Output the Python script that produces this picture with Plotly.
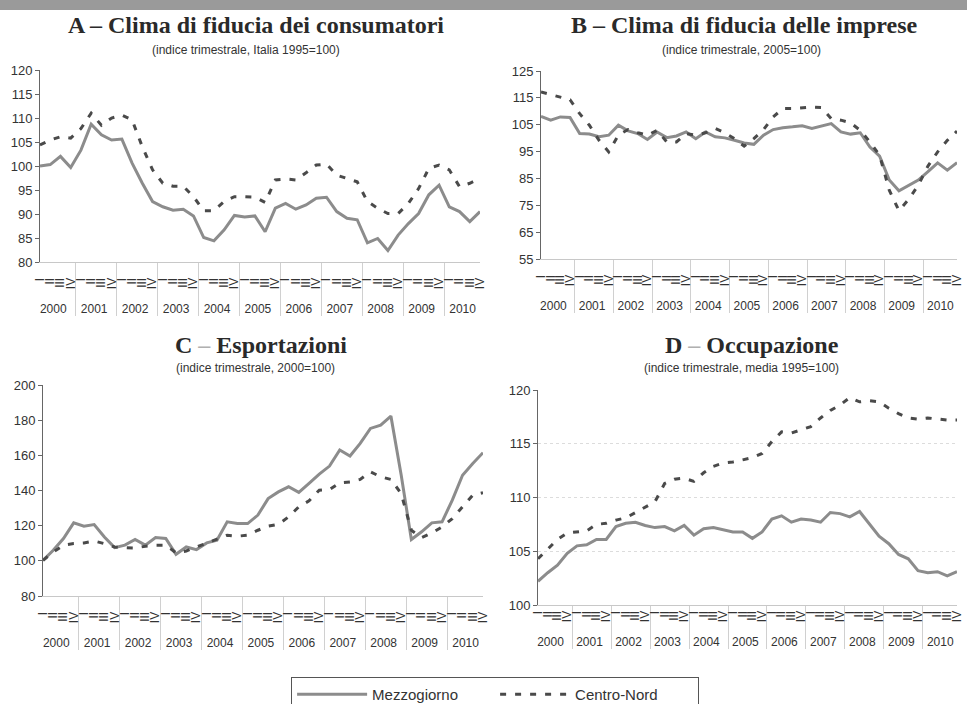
import plotly.graph_objects as go

W, H = 967, 704

years = [str(y) for y in range(2000, 2011)]
quarters = ["I", "II", "III", "IV"]

# Panel A - Clima di fiducia dei consumatori
a_mezz = [100.0, 100.3, 102.0, 99.7, 103.3, 108.7, 106.5, 105.4, 105.6, 100.6, 96.4, 92.6,
          91.5, 90.8, 91.0, 89.6, 85.1, 84.4, 86.7, 89.7, 89.4, 89.6, 86.3, 91.2,
          92.2, 91.0, 91.9, 93.3, 93.5, 90.5, 89.1, 88.8, 84.0, 84.9, 82.4, 85.6,
          88.0, 90.1, 94.0, 96.0, 91.5, 90.5, 88.4, 90.5]
a_cn = [104.4, 105.4, 106.1, 105.8, 107.8, 111.0, 108.5, 110.0, 110.6, 109.6, 104.0, 99.2,
        96.4, 95.8, 95.8, 93.6, 90.7, 90.7, 92.6, 93.6, 93.6, 93.5, 92.4, 97.1,
        97.3, 97.1, 98.6, 100.2, 100.4, 98.1, 97.4, 96.7, 92.6, 91.2, 90.1, 90.1,
        92.2, 95.3, 99.5, 100.2, 99.2, 95.7, 96.4, 97.4]

# Panel B - Clima di fiducia delle imprese
b_mezz = [108.1, 106.7, 107.9, 107.7, 101.7, 101.5, 100.5, 101.1, 104.8, 102.7, 101.7, 99.5,
          102.3, 100.2, 100.8, 102.3, 99.8, 102.3, 100.5, 100.1, 99.2, 98.2, 97.7, 101.1,
          103.2, 103.9, 104.2, 104.6, 103.6, 104.6, 105.4, 102.3, 101.5, 102.0, 96.7, 93.3,
          84.4, 80.4, 82.5, 84.4, 87.5, 90.8, 88.1, 90.9]
b_cn = [117.2, 116.3, 115.3, 114.3, 109.1, 104.8, 99.2, 94.9, 101.1, 103.2, 102.0, 101.1,
        102.9, 98.6, 98.6, 101.7, 101.1, 102.0, 103.6, 102.0, 99.8, 97.0, 99.8, 103.2,
        107.9, 111.0, 111.0, 111.4, 111.6, 111.4, 107.3, 106.7, 105.7, 102.9, 98.6, 93.6,
        80.6, 73.0, 77.2, 82.5, 89.6, 94.9, 99.2, 102.6]

# Panel C - Esportazioni
c_mezz = [100.3, 106.0, 112.7, 121.6, 119.7, 120.6, 113.6, 107.5, 108.9, 112.1, 108.9, 113.2,
          112.7, 103.7, 107.9, 106.4, 110.2, 111.7, 122.2, 121.2, 121.2, 126.0, 135.4, 139.2,
          142.1, 138.9, 144.0, 149.3, 153.9, 163.0, 159.6, 166.8, 175.3, 177.2, 182.3, 149.0,
          112.1, 116.5, 121.6, 122.2, 134.5, 148.7, 155.4, 161.5]
c_cn = [100.3, 105.0, 108.9, 109.8, 110.2, 111.3, 109.8, 107.9, 107.5, 107.3, 108.3, 108.9,
        108.9, 104.5, 105.6, 107.9, 109.8, 112.1, 114.6, 114.0, 114.6, 117.4, 119.7, 120.8,
        125.0, 130.7, 134.1, 140.2, 140.6, 144.4, 144.9, 146.3, 150.6, 147.8, 146.3, 138.3,
        117.4, 113.2, 115.9, 119.3, 124.0, 130.7, 137.3, 138.7]

# Panel D - Occupazione
d_mezz = [102.2, 103.0, 103.7, 104.8, 105.5, 105.6, 106.1, 106.1, 107.3, 107.6, 107.7, 107.4,
          107.2, 107.3, 106.9, 107.4, 106.5, 107.1, 107.2, 107.0, 106.8, 106.8, 106.2, 106.8,
          108.0, 108.3, 107.7, 108.0, 107.9, 107.7, 108.6, 108.5, 108.2, 108.7, 107.6, 106.4,
          105.7, 104.7, 104.3, 103.2, 103.0, 103.1, 102.7, 103.1]
d_cn = [104.3, 105.2, 106.1, 106.7, 106.8, 106.9, 107.5, 107.6, 107.9, 108.1, 108.6, 109.1,
        109.6, 111.3, 111.7, 111.8, 111.5, 112.3, 112.9, 113.2, 113.3, 113.5, 113.7, 114.1,
        115.2, 116.1, 116.0, 116.3, 116.6, 117.4, 118.1, 118.6, 119.3, 118.9, 119.0, 118.9,
        118.3, 117.8, 117.4, 117.3, 117.4, 117.3, 117.2, 117.2]

titles = ["A \u2013 Clima di fiducia dei consumatori",
          "B \u2013 Clima di fiducia delle imprese",
          "C <span style='color:#b0b0b0'>\u2013</span> Esportazioni",
          "D <span style='color:#b0b0b0'>\u2013</span> Occupazione"]
subtitles = ["(indice trimestrale, Italia 1995=100)",
             "(indice trimestrale, 2005=100)",
             "(indice trimestrale, 2000=100)",
             "(indice trimestrale, media 1995=100)"]


def make_x(pad):
    # quarter labels are drawn rotated; trailing no-break spaces keep them off the axis line
    x_year = [y for y in years for _ in quarters]
    x_q = [q + "\u00a0" * pad for _ in years for q in quarters]
    return [x_year, x_q]


MEZZ_COLOR = "#8c8c8c"
CN_COLOR = "#4a4a4a"

# pixel layouts: (x0, x1, ytop, ybottom)
boxes = [(40, 480, 70, 262), (541, 957, 71, 259), (43, 483, 385, 596), (538, 957, 390, 605)]
label_pad = [3, 3, 3, 0]
yranges = [(80, 120, 5), (55, 125, 10), (80, 200, 20), (100, 120, 5)]
title_pos = [(256, 25, 246, 50), (744, 25, 741, 50), (261, 345, 255, 368), (752, 345, 741, 368)]
series = [(a_mezz, a_cn), (b_mezz, b_cn), (c_mezz, c_cn), (d_mezz, d_cn)]

fig = go.Figure()
layout = dict(
    width=W, height=H,
    margin=dict(l=0, r=0, t=0, b=0, autoexpand=False),
    paper_bgcolor="white", plot_bgcolor="rgba(0,0,0,0)",
    font=dict(family="Liberation Sans, Arial, sans-serif", color="#333333", size=12),
    showlegend=True,
    legend=dict(orientation="h", x=0.512, xanchor="center", y=1 - 677 / H, yanchor="top",
                bordercolor="#555555", borderwidth=1, bgcolor="white",
                font=dict(size=15, color="#333333"), itemwidth=70,
                tracegroupgap=0, entrywidth=118),
    annotations=[], shapes=[],
)

for i, ((m, c), (x0, x1, yt, yb), (lo, hi, step), tp) in enumerate(zip(series, boxes, yranges, title_pos)):
    n = "" if i == 0 else str(i + 1)
    xcat = make_x(label_pad[i])
    fig.add_trace(go.Scatter(x=xcat, y=m, mode="lines", name="Mezzogiorno",
                             line=dict(color=MEZZ_COLOR, width=3), showlegend=(i == 0),
                             xaxis="x" + n, yaxis="y" + n))
    fig.add_trace(go.Scatter(x=xcat, y=c, mode="lines", name="Centro-Nord",
                             line=dict(color=CN_COLOR, width=3, dash="6px,9px"), showlegend=(i == 0),
                             xaxis="x" + n, yaxis="y" + n))
    layout["xaxis" + n] = dict(
        domain=[x0 / W, min(x1 / W, 1.0)], anchor="y" + n, type="multicategory",
        showline=True, linecolor="#c8c8c8", linewidth=1, ticks="",
        showdividers=True, dividercolor="#d0d0d0", dividerwidth=1,
        tickangle=-90, dtick=1, tickfont=dict(size=12, color="#333333"),
        showgrid=False, zeroline=False, automargin=False,
    )
    layout["yaxis" + n] = dict(
        domain=[1 - yb / H, 1 - yt / H], anchor="x" + n,
        range=[lo, hi], tickmode="linear", tick0=lo, dtick=step,
        showline=True, linecolor="#666666", linewidth=1, ticks="outside", ticklen=4,
        tickcolor="#666666", tickfont=dict(size=13, color="#333333"),
        showgrid=(i == 3), gridcolor="#dcdcdc", gridwidth=1, griddash="dot",
        zeroline=False, automargin=False,
    )
    tx, ty, sx, sy = tp
    layout["annotations"].append(dict(
        text="<b>" + titles[i] + "</b>", x=tx / W, y=1 - ty / H, xref="paper", yref="paper",
        showarrow=False, xanchor="center", yanchor="middle",
        font=dict(family="Liberation Serif, Times New Roman, serif", size=24, color="#2a2a2a")))
    layout["annotations"].append(dict(
        text=subtitles[i], x=sx / W, y=1 - sy / H, xref="paper", yref="paper",
        showarrow=False, xanchor="center", yanchor="middle",
        font=dict(family="Liberation Sans, Arial, sans-serif", size=12, color="#333333")))

layout["shapes"].append(dict(type="rect", xref="paper", yref="paper", x0=0, x1=1,
                             y0=1 - 10 / H, y1=1, fillcolor="#9a9a9a", line=dict(width=0), layer="below"))

fig.update_layout(**layout)
fig.write_html("out.html", config={"displayModeBar": False},
               post_script="document.body.style.margin='0';document.body.style.overflow='hidden';")
